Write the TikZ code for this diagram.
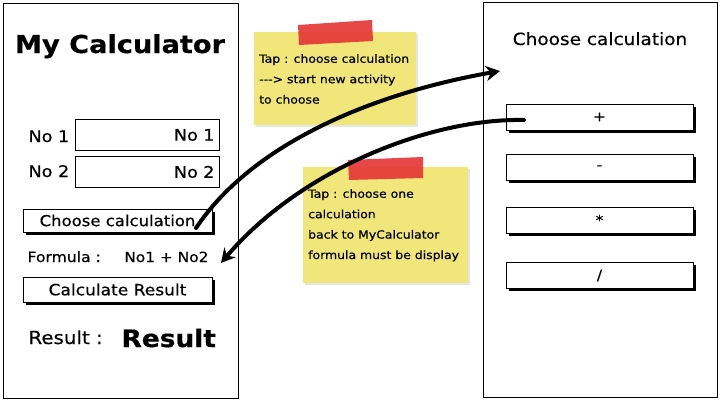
\documentclass[tikz,border=0pt]{standalone}
\usepackage{fontspec}
\setmainfont[FakeStretch=1.1,FakeBold=0.5]{DejaVu Sans}
\usetikzlibrary{shadows,arrows.meta}
\tikzset{>={Stealth[length=14pt,width=15pt]}}

\definecolor{noteyellow}{RGB}{240,230,122}
\definecolor{tapered}{RGB}{228,52,52}
\newcommand{\pxfont}[2]{\fontsize{#1}{#2}\selectfont}

\tikzset{
  screen/.style={draw, line width=1pt},
  field/.style={draw, line width=0.9pt, minimum width=144pt, minimum height=31pt,
    inner sep=0pt, anchor=north west, text width=134pt, align=right, font=\pxfont{16}{16}},
  button/.style={draw, fill=white, line width=0.8pt, inner sep=0pt,
    drop shadow={shadow xshift=2.5pt, shadow yshift=-2.5pt, fill=black, opacity=1}},
  sticky/.style={fill=noteyellow, drop shadow={shadow xshift=2pt, shadow yshift=-2pt, opacity=0.2}},
  tape/.style={fill=tapered, opacity=0.9},
  memo/.style={anchor=north west, inner sep=0pt, align=left, font=\pxfont{11.3}{20.4}},
  link/.style={line width=4pt, line cap=round, ->},
}

\begin{document}
\begin{tikzpicture}[x=1pt,y=-1pt]
  \useasboundingbox[fill=white] (0,0) rectangle (721,400);

  %% MyCalculator screen
  \begin{scope}
    \draw[screen] (3,3) rectangle (238,398);
    \node[anchor=base, font=\bfseries\pxfont{24.7}{24.7}] (calcttl) at (120,53) {My Calculator};

    \node[anchor=base west, font=\pxfont{16}{16}] (lblone) at (25,142) {No 1};
    \node[field] (noone) at (75,119) {No 1};
    \node[anchor=base west, font=\pxfont{16}{16}] (lbltwo) at (25,177) {No 2};
    \node[field] (notwo) at (75,156) {No 2};

    \node[button, minimum width=189pt, minimum height=23pt, font=\pxfont{15}{15}]
      (choose) at (117.5,220.5) {Choose calculation};

    \node[anchor=base west, font=\pxfont{14.2}{14.2}] (lblformula) at (24,262) {Formula :};
    \node[anchor=base east, font=\pxfont{14}{14}] (formula) at (212,262) {No1 + No2};

    \node[button, minimum width=189pt, minimum height=25pt, font=\pxfont{15.5}{15.5}]
      (calcres) at (117.5,289.5) {Calculate Result};

    \node[anchor=base west, font=\pxfont{18}{18}] (lblresult) at (25,344) {Result :};
    \node[anchor=base west, font=\bfseries\pxfont{24}{24}] (result) at (118,347) {Result};
  \end{scope}

  %% Choose calculation screen
  \begin{scope}
    \draw[screen] (483,2) rectangle (717,397);
    \node[anchor=base, font=\pxfont{16.8}{16.8}] (pickttl) at (600,45) {Choose calculation};

    \node[button, minimum width=187pt, minimum height=26pt, font=\pxfont{14}{14}] (plus) at (599.5,117) {+};
    \node[button, minimum width=187pt, minimum height=26pt, font=\pxfont{14}{14}] (minus) at (599.5,167.5) {-};
    \node[button, minimum width=187pt, minimum height=26pt, font=\pxfont{14}{14}] (times) at (599.5,220) {*};
    \node[button, minimum width=187pt, minimum height=26pt, font=\pxfont{14}{14}] (divide) at (599.5,275.5) {/};
  \end{scope}

  %% sticky notes
  \fill[sticky] (254,32) rectangle (416,125);
  \fill[tape] (298,25) -- (372,20) -- (373,41) -- (299,45) -- cycle;
  \node[memo] (memoone) at (259,54) {Tap : choose calculation\\-{}-{}-{}> start new activity\\to choose};

  \fill[sticky] (303,167) rectangle (468,283);
  \fill[tape] (348,160) -- (423,157) -- (423,178) -- (349,180) -- cycle;
  \node[memo] (memotwo) at (308,189) {Tap : choose one\\calculation\\back to MyCalculator\\formula must be display};

  %% arrows
  \coordinate (choosegrip) at (196,228);
  \coordinate (pickin) at (500,71);
  \coordinate (plusgrip) at (524,120);
  \coordinate (formulain) at (221,263);
  \draw[link] (choosegrip) .. controls (255,140) and (380,92) .. (pickin);
  \draw[link] (plusgrip) .. controls (430,118) and (300,170) .. (formulain);
\end{tikzpicture}
\end{document}
